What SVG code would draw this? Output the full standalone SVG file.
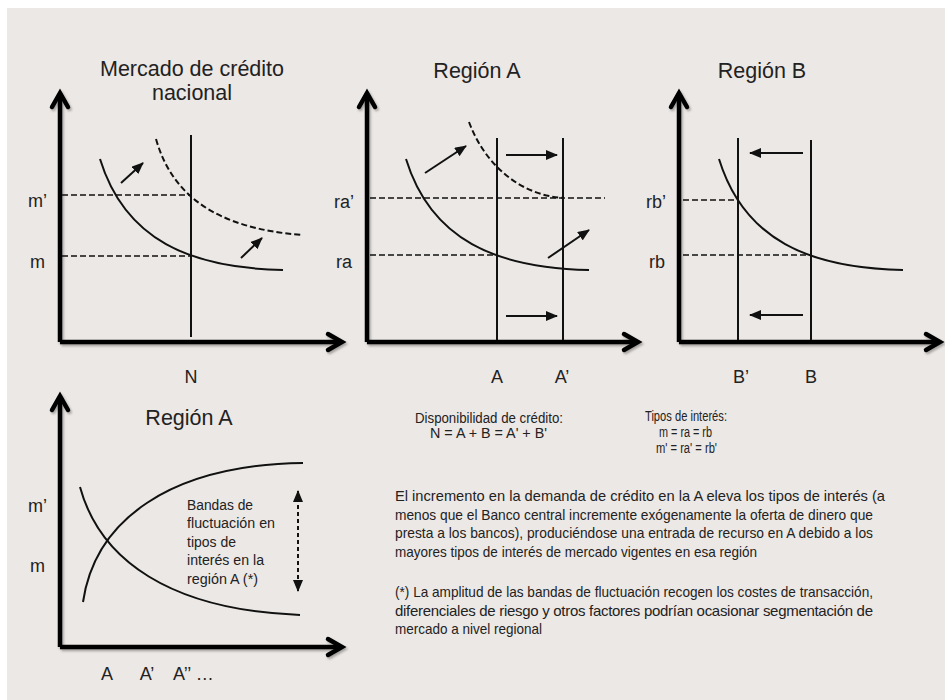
<svg xmlns="http://www.w3.org/2000/svg" width="945" height="700" viewBox="0 0 945 700">
<defs>
<style>
.bg{fill:#ece8e5}
.ax{fill:none;stroke:#000;stroke-width:4.5;stroke-linejoin:miter;stroke-linecap:butt}
.axh{fill:none;stroke:#000;stroke-width:4.5;stroke-linejoin:miter;stroke-linecap:round}
.vl{fill:none;stroke:#111;stroke-width:2}
.cv{fill:none;stroke:#111;stroke-width:2}
.dcv{fill:none;stroke:#111;stroke-width:2;stroke-dasharray:6 3}
.dl{fill:none;stroke:#111;stroke-width:1.6;stroke-dasharray:6 3}
.ar{fill:none;stroke:#111;stroke-width:2;marker-end:url(#ah)}
.t{font-family:"Liberation Sans",Arial,sans-serif;fill:#222}
.title{font-size:21.5px;text-anchor:middle}
.lb{font-size:18px}
.lbm{font-size:18px;text-anchor:middle}
.sm{font-size:14px}
.note{font-size:15.5px}
.par{font-size:15px}
</style>
<marker id="ah" viewBox="0 0 12 10" refX="11" refY="5" markerWidth="12" markerHeight="10" markerUnits="userSpaceOnUse" orient="auto-start-reverse">
<path d="M0,0 L12,5 L0,10 z" fill="#111"/>
</marker>
<filter id="sh" x="-10%" y="-10%" width="120%" height="120%">
<feDropShadow dx="1.5" dy="2" stdDeviation="1.2" flood-color="#000" flood-opacity="0.3"/>
</filter>
</defs>
<rect x="0" y="0" width="945" height="700" fill="#ffffff"/>
<rect class="bg" x="7" y="8" width="938" height="692"/>

<g id="panel-nacional">
<text class="t title" x="192" y="76">Mercado de crédito</text>
<text class="t title" x="192" y="100">nacional</text>
<g filter="url(#sh)">
<path class="ax" d="M60,342 V94 M60,342 H340"/>
<path class="axh" d="M52,107 L60,93 L68,107"/>
<path class="axh" d="M328,334 L342,342 L328,350"/>
</g>
<line class="vl" x1="191" y1="135" x2="191" y2="337"/>
<line class="dl" x1="62" y1="195" x2="191" y2="195"/>
<line class="dl" x1="62" y1="256" x2="191" y2="256"/>
<path class="cv" d="M100,159 C125,240 190,268 283,270"/>
<path class="dcv" d="M156,139 C172,195 215,228 302,235"/>
<line class="ar" x1="121" y1="183" x2="143" y2="163"/>
<line class="ar" x1="241" y1="258" x2="262" y2="238"/>
<text class="t lb" x="28" y="207">m’</text>
<text class="t lb" x="30" y="268">m</text>
<text class="t lbm" x="191" y="383">N</text>
</g>

<g id="panel-region-a">
<text class="t title" x="477" y="78">Región A</text>
<g filter="url(#sh)">
<path class="ax" d="M367,342 V94 M367,342 H636"/>
<path class="axh" d="M359,107 L367,93 L375,107"/>
<path class="axh" d="M624,334 L638,342 L624,350"/>
</g>
<line class="vl" x1="497" y1="138" x2="497" y2="340"/>
<line class="vl" x1="563" y1="138" x2="563" y2="340"/>
<line class="dl" x1="370" y1="198" x2="605" y2="198"/>
<line class="dl" x1="370" y1="255" x2="497" y2="255"/>
<path class="cv" d="M406,159 C431,240 496,268 589,270"/>
<path class="dcv" d="M469,122 C485,165 520,195 563,198"/>
<line class="ar" x1="425" y1="173" x2="466" y2="146"/>
<line class="ar" x1="548" y1="258" x2="589" y2="230"/>
<line class="ar" x1="506" y1="155" x2="557" y2="155"/>
<line class="ar" x1="506" y1="316" x2="557" y2="316"/>
<text class="t lb" x="334" y="208">ra’</text>
<text class="t lb" x="336" y="268">ra</text>
<text class="t lbm" x="497" y="383">A</text>
<text class="t lbm" x="562" y="383">A’</text>
</g>

<g id="panel-region-b">
<text class="t title" x="762" y="78">Región B</text>
<g filter="url(#sh)">
<path class="ax" d="M679,342 V94 M679,342 H938"/>
<path class="axh" d="M671,107 L679,93 L687,107"/>
<path class="axh" d="M926,334 L940,342 L926,350"/>
</g>
<line class="vl" x1="738" y1="138" x2="738" y2="340"/>
<line class="vl" x1="811" y1="140" x2="811" y2="340"/>
<line class="dl" x1="683" y1="200" x2="738" y2="200"/>
<line class="dl" x1="683" y1="255" x2="811" y2="255"/>
<path class="cv" d="M719,159 C744,240 809,268 903,270"/>
<line class="ar" x1="803" y1="153" x2="750" y2="153"/>
<line class="ar" x1="803" y1="315" x2="750" y2="315"/>
<text class="t lb" x="646" y="208">rb’</text>
<text class="t lb" x="649" y="268">rb</text>
<text class="t lbm" x="741" y="383">B’</text>
<text class="t lbm" x="811" y="383">B</text>
</g>

<g id="panel-region-a-bandas">
<text class="t title" x="189" y="425">Región A</text>
<g filter="url(#sh)">
<path class="ax" d="M60,647 V397 M60,647 H340"/>
<path class="axh" d="M52,410 L60,396 L68,410"/>
<path class="axh" d="M328,639 L342,647 L328,655"/>
</g>
<path class="cv" d="M83,602 C95,520 170,465 303,463"/>
<path class="cv" d="M80,487 C100,560 170,610 300,615"/>
<line x1="298" y1="491" x2="298" y2="591" stroke="#111" stroke-width="2" stroke-dasharray="4 3" marker-start="url(#ah)" marker-end="url(#ah)"/>
<text class="t note" x="187" y="510" textLength="66" lengthAdjust="spacingAndGlyphs">Bandas de</text>
<text class="t note" x="187" y="528" textLength="88" lengthAdjust="spacingAndGlyphs">fluctuación en</text>
<text class="t note" x="187" y="547" textLength="49" lengthAdjust="spacingAndGlyphs">tipos de</text>
<text class="t note" x="187" y="565" textLength="77" lengthAdjust="spacingAndGlyphs">interés en la</text>
<text class="t note" x="187" y="584" textLength="71" lengthAdjust="spacingAndGlyphs">región A (*)</text>
<text class="t lb" x="28" y="512">m’</text>
<text class="t lb" x="30" y="572">m</text>
<text class="t lbm" x="107" y="680">A</text>
<text class="t lbm" x="147" y="680">A’</text>
<text class="t lb" x="173" y="680">A’’ …</text>
</g>

<g id="texts">
<text class="t sm" x="415" y="423" textLength="148" lengthAdjust="spacingAndGlyphs">Disponibilidad de crédito:</text>
<text class="t sm" x="430" y="438" textLength="117" lengthAdjust="spacingAndGlyphs">N = A + B = A' + B'</text>
<text class="t sm" x="645" y="421" textLength="82" lengthAdjust="spacingAndGlyphs">Tipos de interés:</text>
<text class="t sm" x="659" y="437" textLength="53" lengthAdjust="spacingAndGlyphs">m = ra = rb</text>
<text class="t sm" x="656" y="453" textLength="61" lengthAdjust="spacingAndGlyphs">m' = ra' = rb'</text>
<text class="t par" x="395" y="501" textLength="490" lengthAdjust="spacingAndGlyphs">El incremento en la demanda de crédito en la A eleva los tipos de interés (a</text>
<text class="t par" x="395" y="520" textLength="478" lengthAdjust="spacingAndGlyphs">menos que el Banco central incremente exógenamente la oferta de dinero que</text>
<text class="t par" x="395" y="538" textLength="478" lengthAdjust="spacingAndGlyphs">presta a los bancos), produciéndose una entrada de recurso en A debido a los</text>
<text class="t par" x="395" y="557" textLength="362" lengthAdjust="spacingAndGlyphs">mayores tipos de interés de mercado vigentes en esa región</text>
<text class="t par" x="395" y="597" textLength="478" lengthAdjust="spacingAndGlyphs">(*) La amplitud de las bandas de fluctuación recogen los costes de transacción,</text>
<text class="t par" x="395" y="616" textLength="478" lengthAdjust="spacing">diferenciales de riesgo y otros factores podrían ocasionar segmentación de</text>
<text class="t par" x="395" y="634" textLength="147" lengthAdjust="spacingAndGlyphs">mercado a nivel regional</text>
</g>
</svg>
